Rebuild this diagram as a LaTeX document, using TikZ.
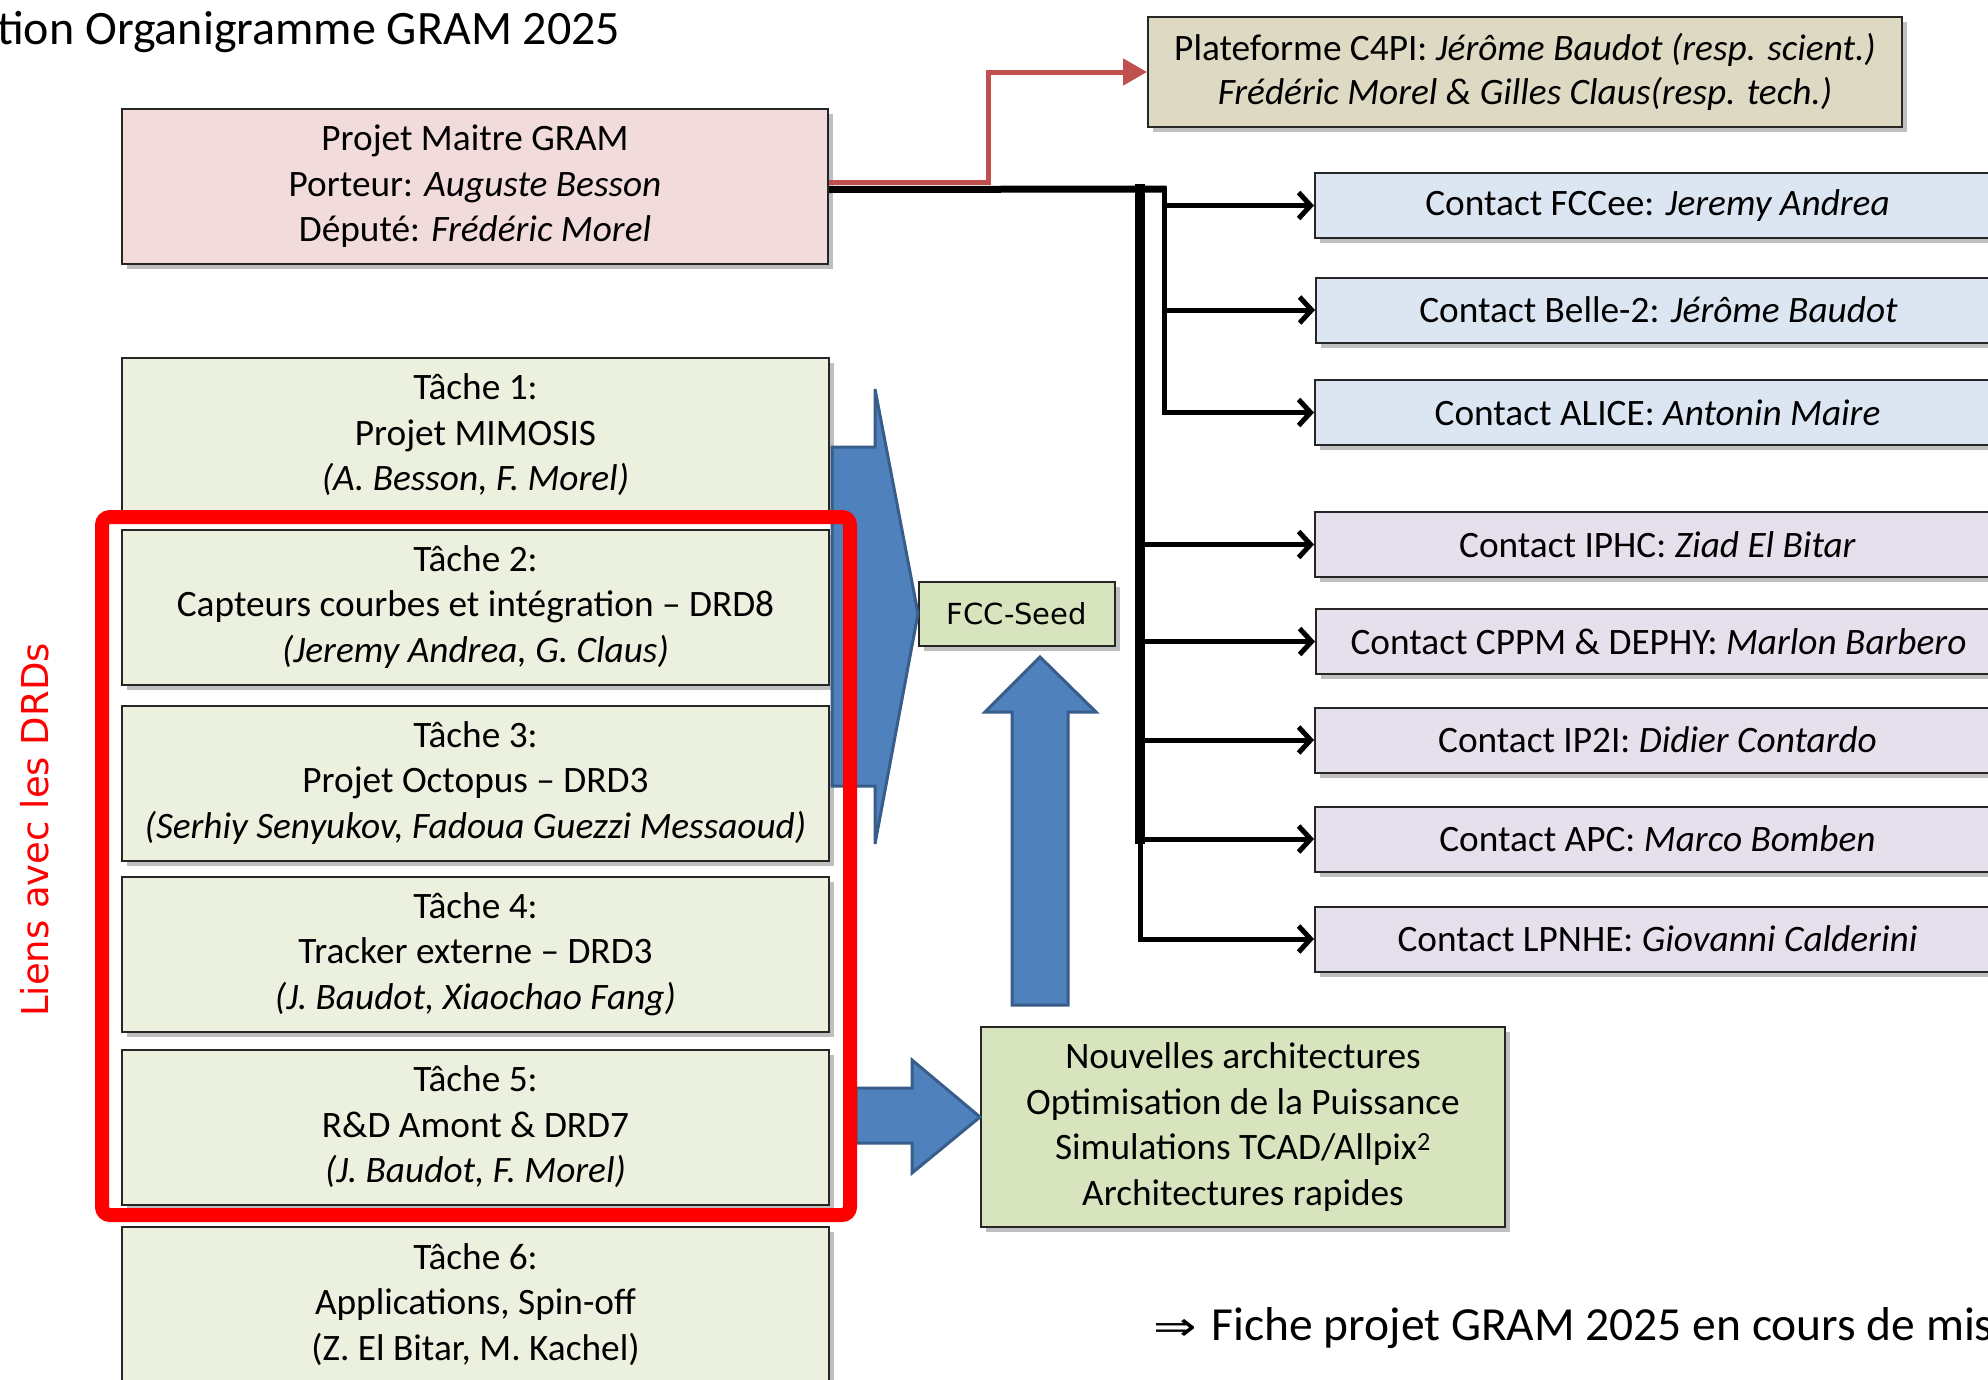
\documentclass[tikz,border=0pt]{standalone}
\usepackage{fontspec}
\setmainfont{Carlito}
\newfontfamily\verd{DejaVu Sans}
\usetikzlibrary{arrows.meta,shadows,calc}
\definecolor{pinkbox}{HTML}{F2DCDB}
\definecolor{tanbox}{HTML}{DDD9C3}
\definecolor{bluebox}{HTML}{DCE6F2}
\definecolor{purplebox}{HTML}{E5E0EC}
\definecolor{greenbox}{HTML}{EBF1DE}
\definecolor{greenboxb}{HTML}{D7E4BD}
\definecolor{blockblue}{HTML}{4F81BD}
\definecolor{blockborder}{HTML}{385D8A}
\definecolor{redline}{HTML}{C0504D}
\tikzset{
  box/.style={draw=black!85, line width=2pt, align=center, inner sep=0pt,
    font=\fontsize{37.3}{45.5}\selectfont,
    drop shadow={shadow xshift=5pt, shadow yshift=-5pt, opacity=0.25, fill=black}},
  taskbox/.style={box, fill=greenbox, minimum width=707pt, minimum height=155pt},
  contactbox/.style={box, minimum width=685pt, minimum height=65pt},
  conn/.style={line width=5pt, -{Straight Barb[length=12pt,width=26pt]}},
  trunk/.style={line width=#1, line cap=rect},
  blockarrow/.style={fill=blockblue, draw=blockborder, line width=3pt, line join=miter},
}
\begin{document}
\begin{tikzpicture}[x=1pt,y=-1pt]
\useasboundingbox (0,0) rectangle (1988,1379);
\clip (0,0) rectangle (1988,1379);
\fill[white] (0,0) rectangle (1988,1379);

% title and footer
\node[anchor=base west, inner sep=0pt, font=\fontsize{48}{52}\selectfont] (title) at (-3,44) {tion Organigramme GRAM 2025};
\node[anchor=base west, inner sep=0pt, font=\fontsize{47.5}{52}\selectfont] (fiche) at (1153,1340) {\scalebox{1.3}[1.0]{\verd\fontsize{40}{44}\selectfont ⇒}\hspace{15pt}Fiche projet GRAM 2025 en cours de mis};

% main boxes
\node[box, fill=pinkbox, minimum width=706pt, minimum height=155pt] (gram) at (475,186.5)
  {Projet Maitre GRAM\\Porteur: \textit{Auguste Besson}\\Député: \textit{Frédéric Morel}};
\node[box, fill=tanbox, minimum width=754pt, minimum height=110pt, font=\fontsize{37.3}{44}\selectfont] (c4pi) at (1525,72)
  {Plateforme C4PI: \textit{Jérôme Baudot (resp. scient.)}\\\textit{Frédéric Morel \& Gilles Claus(resp. tech.)}};

% contacts
\node[contactbox, fill=bluebox] (fcc) at (1657.5,205.5) {Contact FCCee: \textit{Jeremy Andrea}};
\node[contactbox, fill=bluebox] (belle) at (1658.5,310) {Contact Belle-2: \textit{Jérôme Baudot}};
\node[contactbox, fill=bluebox] (alice) at (1657.5,412.5) {Contact ALICE: \textit{Antonin Maire}};
\node[contactbox, fill=purplebox] (iphc) at (1657.5,544.5) {Contact IPHC: \textit{Ziad El Bitar}};
\node[contactbox, fill=purplebox] (cppm) at (1658.5,641.5) {Contact CPPM \& DEPHY: \textit{Marlon Barbero}};
\node[contactbox, fill=purplebox] (ip2i) at (1657.5,740) {Contact IP2I: \textit{Didier Contardo}};
\node[contactbox, fill=purplebox] (apc) at (1657.5,839) {Contact APC: \textit{Marco Bomben}};
\node[contactbox, fill=purplebox] (lpnhe) at (1657.5,939) {Contact LPNHE: \textit{Giovanni Calderini}};

% tasks
\node[taskbox] (t1) at (475.5,435) {Tâche 1:\\Projet MIMOSIS\\\textit{(A. Besson, F. Morel)}};
\node[taskbox] (t2) at (475.5,607) {Tâche 2:\\Capteurs courbes et intégration -- DRD8\\\textit{(Jeremy Andrea, G. Claus)}};
\node[taskbox] (t3) at (475.5,783) {Tâche 3:\\Projet Octopus -- DRD3\\\textit{(Serhiy Senyukov, Fadoua Guezzi Messaoud)}};
\node[taskbox] (t4) at (475.5,954) {Tâche 4:\\Tracker externe -- DRD3\\\textit{(J. Baudot, Xiaochao Fang)}};
\node[taskbox] (t5) at (475.5,1127) {Tâche 5:\\R\&D Amont \& DRD7\\\textit{(J. Baudot, F. Morel)}};
\node[taskbox] (t6) at (475.5,1304.5) {Tâche 6:\\Applications, Spin-off\\(Z. El Bitar, M. Kachel)};

% FCC-Seed and Nouvelles
\node[box, fill=greenboxb, minimum width=196pt, minimum height=64pt, font=\verd\fontsize{29}{32}\selectfont] (seed) at (1017,613.5) {FCC-Seed};
\node[box, fill=greenboxb, minimum width=524pt, minimum height=200pt] (nouv) at (1243,1127)
  {Nouvelles architectures\\Optimisation de la Puissance\\Simulations TCAD/Allpix\textsuperscript{2}\\Architectures rapides};

% block arrows
\draw[blockarrow] (832,447) -- (875,447) -- (875,389) -- (seed.west) -- (875,844) -- (875,786) -- (832,786) -- cycle;
\draw[blockarrow] (1012,1005) -- (1012,712) -- (985,712) -- (1040,657) -- (1096,712) -- (1068,712) -- (1068,1005) -- cycle;
\draw[blockarrow] (856,1088) -- (912,1088) -- (912,1060) -- (nouv.west |- 0,1117) -- (912,1173) -- (912,1143) -- (856,1143) -- cycle;

% DRD frame
\node[draw=red, line width=14pt, rounded corners=8pt, minimum width=748pt, minimum height=698pt, inner sep=0pt] (drd) at (476,866) {};
\node[rotate=90, anchor=base, text=red, inner sep=0pt, font=\verd\fontsize{37}{40}\selectfont] (liens) at (48,830) {Liens avec les DRDs};

% connectors
\coordinate (tA) at (1140,189);
\coordinate (tB) at (1164,189);
\draw[redline, line width=5pt, -{Triangle[length=24pt,width=26pt]}] ([yshift=4pt]gram.east) -- (988,182.5) -- (988,72) -- (c4pi.west);
\draw[line width=7pt] ([yshift=-3pt]gram.east) -- ([xshift=2.5pt]tB);
\draw[trunk=5pt] (tB) -- (tB |- fcc.west);
\draw[conn] (tB |- fcc.west) -- (fcc.west);
\draw[conn] (tB |- belle.west) -- (belle.west);
\draw[conn] (tB) -- (tB |- alice.west) -- (alice.west);
\draw[trunk=10pt] (tA) -- (tA |- apc.west);
\draw[conn] (tA |- iphc.west) -- (iphc.west);
\draw[conn] (tA |- cppm.west) -- (cppm.west);
\draw[conn] (tA |- ip2i.west) -- (ip2i.west);
\draw[conn] (tA |- apc.west) -- (apc.west);
\draw[conn] (tA |- apc.west) -- (tA |- lpnhe.west) -- (lpnhe.west);
\end{tikzpicture}
\end{document}
